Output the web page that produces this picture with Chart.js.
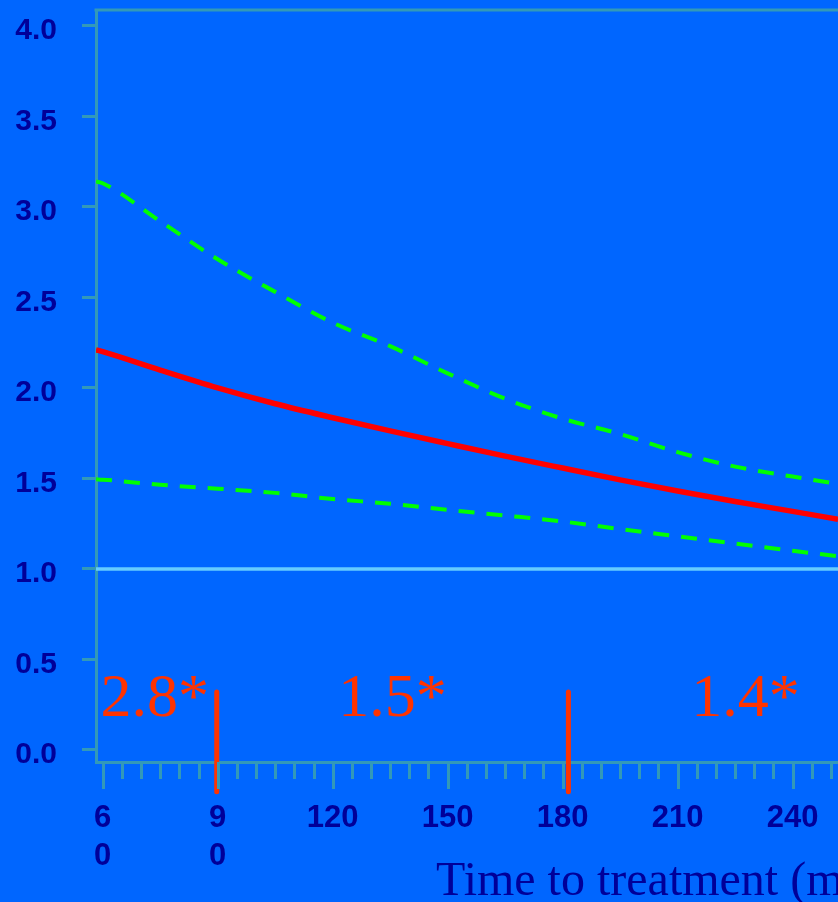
<!DOCTYPE html>
<html>
<head>
<meta charset="utf-8">
<script src="https://cdn.jsdelivr.net/npm/chart.js@4"></script>
<style>
html,body{margin:0;padding:0;background:#0066FF;overflow:hidden;}
canvas{display:block;}
</style>
</head>
<body>
<canvas id="c" width="838" height="902"></canvas>
<script>
// ---- data ----
const timeMin   = [58.25, 60, 75, 90, 105, 120, 135, 150, 165, 180, 195, 210, 225, 240, 251.84];
const oddsRatio = [2.21, 2.20, 2.098, 2.00, 1.912, 1.835, 1.762, 1.692, 1.623, 1.557, 1.492, 1.43, 1.372, 1.318, 1.274];
const upperCI   = [3.14, 3.13, 2.92, 2.71, 2.53, 2.36, 2.23, 2.08, 1.94, 1.83, 1.745, 1.645, 1.565, 1.51, 1.47];
const lowerCI   = [1.495, 1.493, 1.465, 1.443, 1.42, 1.386, 1.36, 1.326, 1.295, 1.262, 1.22, 1.18, 1.14, 1.10, 1.07];
const referenceValue = 1.0;
const cutpoints = [89.75, 181.5];
const cutpointRange = [0.32, -0.23];
const zoneLabels = ['2.8*', '1.5*', '1.4*'];
const zoneLabelTime = [73.6, 135.6, 227.7];
const zoneLabelValue = 0.188;
const xTickValues = [60, 90, 120, 150, 180, 210, 240];
const xTickLabels = [['6', '0'], ['9', '0'], '120', '150', '180', '210', '240'];
const xTitle = 'Time to treatment (min)';

// ---- style ----
const BG = '#0066FF';
const AXIS = '#3399B8';
const NAVY = '#000099';
const X_MIN = 58.25, X_MAX = 251.84, Y_MIN = -0.0663, Y_MAX = 4.0867;

const toPts = ys => timeMin.map((x, i) => ({x: x, y: ys[i]}));
const cutData = [];
cutpoints.forEach((c, i) => {
  if (i) cutData.push({x: (cutpoints[i - 1] + c) / 2, y: null});
  cutData.push({x: c, y: cutpointRange[0]}, {x: c, y: cutpointRange[1]});
});

const decor = {
  id: 'decor',
  beforeDraw(chart) {
    const ctx = chart.ctx;
    ctx.save();
    ctx.fillStyle = BG;
    ctx.fillRect(0, 0, chart.width, chart.height);
    ctx.restore();
  },
  afterDraw(chart) {
    const ctx = chart.ctx, a = chart.chartArea;
    const xs = chart.scales.x, ys = chart.scales.y;
    ctx.save();
    // top frame
    ctx.strokeStyle = AXIS;
    ctx.lineWidth = 3;
    ctx.beginPath();
    ctx.moveTo(a.left - 1.5, a.top);
    ctx.lineTo(a.right, a.top);
    ctx.stroke();
    // x ticks (minor every 5, major every 30)
    for (let v = xTickValues[0]; v <= xs.max; v += 5) {
      const px = Math.round(xs.getPixelForValue(v)) + 0.5;
      const len = (v % 30 === 0) ? 27 : 17;
      ctx.beginPath();
      ctx.moveTo(px, a.bottom);
      ctx.lineTo(px, a.bottom + len);
      ctx.stroke();
    }
    // zone labels
    ctx.fillStyle = '#FF3300';
    ctx.font = '62px "Liberation Serif"';
    ctx.textAlign = 'center';
    ctx.textBaseline = 'alphabetic';
    zoneLabels.forEach((t, i) => {
      ctx.fillText(t, xs.getPixelForValue(zoneLabelTime[i]), ys.getPixelForValue(zoneLabelValue));
    });
    // x title
    ctx.fillStyle = NAVY;
    ctx.font = '48px "Liberation Serif"';
    ctx.textAlign = 'left';
    ctx.fillText(xTitle, 436, 895);
    ctx.restore();
  }
};

new Chart(document.getElementById('c'), {
  type: 'line',
  data: {
    datasets: [
      {
        data: [{x: X_MIN, y: referenceValue}, {x: X_MAX, y: referenceValue}],
        borderColor: '#66CCFF', borderWidth: 3.5, pointRadius: 0
      },
      {
        data: toPts(lowerCI),
        borderColor: '#00FF00', borderWidth: 4, borderDash: [16, 12], pointRadius: 0,
        cubicInterpolationMode: 'monotone'
      },
      {
        data: toPts(upperCI),
        borderColor: '#00FF00', borderWidth: 4, borderDash: [16, 12], pointRadius: 0,
        cubicInterpolationMode: 'monotone'
      },
      {
        data: toPts(oddsRatio),
        borderColor: '#FF0000', borderWidth: 5.5, pointRadius: 0,
        cubicInterpolationMode: 'monotone'
      },
      {
        data: cutData,
        borderColor: '#FF3300', borderWidth: 5, pointRadius: 0,
        borderCapStyle: 'round', spanGaps: false, clip: false
      }
    ]
  },
  options: {
    responsive: false,
    animation: false,
    devicePixelRatio: 1,
    layout: {padding: {top: 10, left: 0, right: 0, bottom: 0}},
    plugins: {legend: {display: false}, tooltip: {enabled: false}},
    scales: {
      x: {
        type: 'linear',
        min: X_MIN, max: X_MAX,
        afterFit(s) { s.height = 140; s.paddingLeft = 0; s.paddingRight = 0; s.paddingTop = 0; s.paddingBottom = 0; },
        grid: {display: false, drawTicks: false},
        border: {display: true, color: AXIS, width: 3},
        ticks: {
          stepSize: 30, includeBounds: false, autoSkip: false, maxRotation: 0,
          color: NAVY, padding: 37,
          font: {family: '"Liberation Sans"', weight: 'bold', size: 31, lineHeight: 1.24},
          callback(v) { const i = xTickValues.indexOf(v); return i >= 0 ? xTickLabels[i] : ''; }
        }
      },
      y: {
        type: 'linear',
        min: Y_MIN, max: Y_MAX,
        afterFit(s) { s.width = 96; s.paddingLeft = 0; s.paddingRight = 0; s.paddingTop = 0; s.paddingBottom = 0; },
        grid: {display: true, drawOnChartArea: false, drawTicks: true, tickLength: 14, tickWidth: 3, tickColor: AXIS, color: AXIS, lineWidth: 3},
        border: {display: true, color: AXIS, width: 3},
        ticks: {
          stepSize: 0.5, includeBounds: false,
          color: NAVY, padding: 25, labelOffset: 5,
          font: {family: '"Liberation Sans"', weight: 'bold', size: 30},
          callback(v) { return v.toFixed(1); }
        }
      }
    }
  },
  plugins: [decor]
});
</script>
</body>
</html>
